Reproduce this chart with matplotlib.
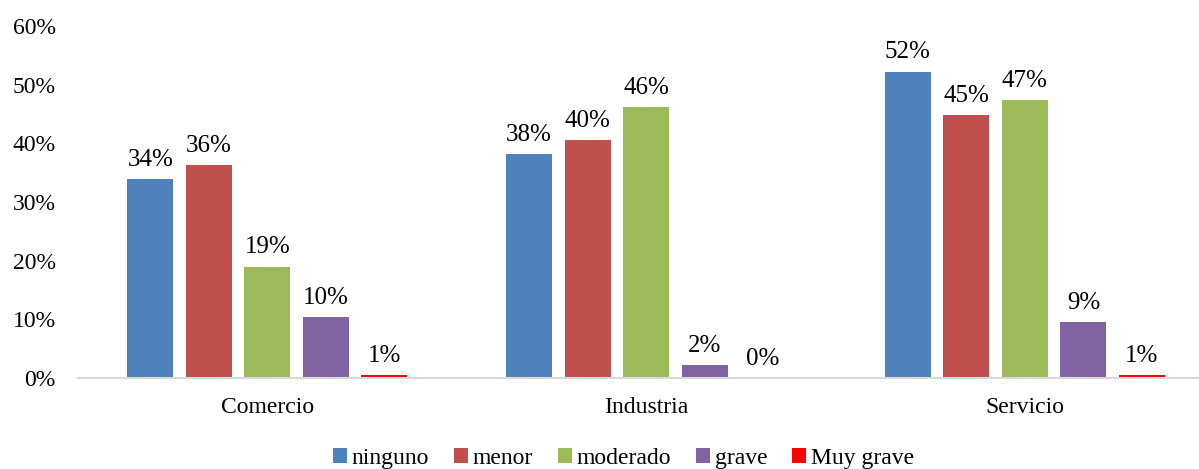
import numpy as np
import matplotlib.pyplot as plt

plt.rcParams['font.family'] = ['Liberation Serif', 'DejaVu Serif']

categorias = ["Comercio", "Industria", "Servicio"]
series = ["ninguno", "menor", "moderado", "grave", "Muy grave"]
ninguno = [33.9, 38.2, 52.2]
menor = [36.3, 40.5, 44.8]
moderado = [19.0, 46.2, 47.4]
grave = [10.4, 2.2, 9.5]
muy_grave = [0.5, 0.0, 0.5]
etiquetas = [["34%", "38%", "52%"],
             ["36%", "40%", "45%"],
             ["19%", "46%", "47%"],
             ["10%", "2%", "9%"],
             ["1%", "0%", "1%"]]
colores = ["#4F81BD", "#C0504D", "#9BBB59", "#8064A2", "#FF0000"]

valores = [ninguno, menor, moderado, grave, muy_grave]

fig = plt.figure(figsize=(11.99, 4.69), dpi=100)
ax = fig.add_axes([78/1199, 91/469, 1 - 78/1199, (378-26)/469])

x = np.arange(len(categorias))
ancho = 0.1215
paso = 0.1545
for k, (nombre, vals, col) in enumerate(zip(series, valores, colores)):
    pos = x + (k - 2) * paso
    bars = ax.bar(pos, vals, ancho, color=col, label=nombre)
    for b, txt in zip(bars, etiquetas[k]):
        ax.annotate(txt, (b.get_x() + b.get_width()/2, b.get_height()),
                    xytext=(0, 6), textcoords="offset points",
                    ha="center", va="bottom", fontsize=18)

ax.set_xlim(-0.5, (1199 - 267.5) / 378.7)
ax.set_ylim(0, 60)
ax.set_yticks(range(0, 61, 10))
ax.set_yticklabels([f"{v}%" for v in range(0, 61, 10)], fontsize=17)
ax.set_xticks(x)
ax.set_xticklabels(categorias, fontsize=17)
ax.tick_params(axis="y", length=0, pad=16)
ax.tick_params(axis="x", length=0, pad=14)
for s in ["top", "right", "left"]:
    ax.spines[s].set_visible(False)
ax.spines["bottom"].set_color("#D9D9D9")
ax.spines["bottom"].set_linewidth(1.5)

fig.legend(loc="lower center", bbox_to_anchor=(0.52, -0.045), ncol=5,
           frameon=False, fontsize=17, handlelength=0.6, handleheight=0.6,
           handletextpad=0.2, columnspacing=1.05)

fig.savefig("out.png", dpi=100)
